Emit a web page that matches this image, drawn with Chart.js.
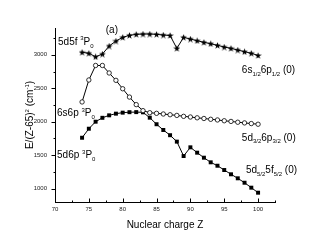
<!DOCTYPE html>
<html>
<head>
<meta charset="utf-8">
<script src="https://cdn.jsdelivr.net/npm/chart.js@4.4.1/dist/chart.umd.min.js"></script>
<style>
  html, body { margin: 0; padding: 0; background: #fff; }
  #chart { display: block; }
</style>
</head>
<body>
<canvas id="chart" width="320" height="245"></canvas>
<script>
// Nuclear charge Z
const zValues = [74, 75, 76, 77, 78, 79, 80, 81, 82, 83, 84, 85, 86, 87, 88, 89, 90, 91, 92, 93, 94, 95, 96, 97, 98, 99, 100];

// 6s1/2 6p1/2 (0) - stars
const starVals = [3037, 3022, 2970, 3010, 3131, 3205, 3260, 3290, 3305, 3310, 3310, 3305, 3295, 3288, 3096, 3260, 3235, 3210, 3186, 3165, 3141, 3116, 3096, 3071, 3046, 3022, 2990];

// 5d3/2 6p3/2 (0) - open circles
const circleVals = [2295, 2623, 2840, 2840, 2728, 2618, 2492, 2368, 2255, 2165, 2134, 2125, 2115, 2104, 2094, 2080, 2070, 2058, 2048, 2036, 2026, 2014, 2004, 1992, 1982, 1972, 1962];

// 5d5/2 5f5/2 (0) - filled squares
const squareVals = [1760, 1895, 2000, 2058, 2095, 2120, 2135, 2142, 2143, 2140, 2060, 1962, 1876, 1798, 1702, 1487, 1617, 1537, 1462, 1393, 1342, 1278, 1214, 1154, 1088, 1014, 939];

const xTickVals = [70, 75, 80, 85, 90, 95, 100];
const yTickVals = [1000, 1500, 2000, 2500, 3000];

// text labels in the plot (data coordinates); s: 1 = superscript, -1 = subscript
const notes = [
    { z: 77.5, e: 3325, parts: [{ t: '(a)' }] },
    { z: 70.45, e: 3146, parts: [{ t: '5d5f ' }, { t: '3', s: 1 }, { t: 'P' }, { t: '0', s: -1 }] },
    { z: 70.3, e: 2085, parts: [{ t: '6s6p ' }, { t: '3', s: 1 }, { t: 'P' }, { t: '0', s: -1 }] },
    { z: 70.3, e: 1457, parts: [{ t: '5d6p ' }, { t: '3', s: 1 }, { t: 'P' }, { t: '0', s: -1 }] },
    { z: 97.6, e: 2732, parts: [{ t: '6s' }, { t: '1/2', s: -1 }, { t: '6p' }, { t: '1/2', s: -1 }, { t: ' (0)' }] },
    { z: 97.6, e: 1716, parts: [{ t: '5d' }, { t: '3/2', s: -1 }, { t: '6p' }, { t: '3/2', s: -1 }, { t: ' (0)' }] },
    { z: 98.2, e: 1229, parts: [{ t: '5d' }, { t: '5/2', s: -1 }, { t: '5f' }, { t: '5/2', s: -1 }, { t: ' (0)' }] }
];

const FONT = '"Liberation Sans", Arial, sans-serif';

// filled five point star used as point style
function makeStar(size) {
    const c = document.createElement('canvas');
    c.width = size; c.height = size;
    const g = c.getContext('2d');
    const cx = size / 2, cy = size / 2 + 0.3;
    const ro = size / 2, ri = ro * 0.42;
    g.beginPath();
    for (let i = 0; i < 10; i++) {
        const r = i % 2 === 0 ? ro : ri;
        const a = -Math.PI / 2 + i * Math.PI / 5;
        const px = cx + r * Math.cos(a), py = cy + r * Math.sin(a);
        if (i === 0) g.moveTo(px, py); else g.lineTo(px, py);
    }
    g.closePath();
    g.fillStyle = '#000';
    g.fill();
    return c;
}

function drawRich(ctx, x, y, parts, size) {
    let cx = x;
    parts.forEach(p => {
        const small = p.s ? size * 0.6 : size;
        ctx.font = small + 'px ' + FONT;
        const dy = p.s === 1 ? -size * 0.45 : (p.s === -1 ? size * 0.28 : 0);
        ctx.fillText(p.t, cx, y + dy);
        cx += ctx.measureText(p.t).width;
    });
}

const extras = {
    id: 'extras',
    afterDraw(chart) {
        const { ctx, chartArea, scales: { x, y } } = chart;
        ctx.save();
        ctx.strokeStyle = '#000';
        ctx.lineWidth = 1;
        const left = Math.round(chartArea.left) + 0.5;
        const bottom = Math.round(chartArea.bottom) + 0.5;

        // y ticks (outward), major and minor
        ctx.beginPath();
        for (let v = 1000; v <= 3250; v += 250) {
            const py = Math.round(y.getPixelForValue(v)) + 0.5;
            const len = v % 500 === 0 ? 4 : 2;
            ctx.moveTo(left, py);
            ctx.lineTo(left - len, py);
        }
        // x ticks (inward), major and minor
        for (let v = 70; v <= 102.5; v += 2.5) {
            const px = Math.round(x.getPixelForValue(v)) + 0.5;
            const len = v % 5 === 0 ? 4 : 2;
            ctx.moveTo(px, bottom);
            ctx.lineTo(px, bottom - len);
        }
        ctx.stroke();

        // in-plot labels
        ctx.fillStyle = '#000';
        ctx.textBaseline = 'alphabetic';
        ctx.textAlign = 'left';
        notes.forEach(n => {
            drawRich(ctx, x.getPixelForValue(n.z), y.getPixelForValue(n.e), n.parts, 10);
        });

        // x axis title
        ctx.textAlign = 'center';
        ctx.font = '10px ' + FONT;
        ctx.fillText('Nuclear charge Z', (chartArea.left + chartArea.right) / 2, 228);

        // y axis title, rotated
        ctx.textAlign = 'left';
        const yParts = [{ t: 'E/(Z-65)' }, { t: '2', s: 1 }, { t: ' (cm' }, { t: '-1', s: 1 }, { t: ')' }];
        let w = 0;
        yParts.forEach(p => {
            ctx.font = (p.s ? 6 : 10) + 'px ' + FONT;
            w += ctx.measureText(p.t).width;
        });
        ctx.translate(33, 115);
        ctx.rotate(-Math.PI / 2);
        drawRich(ctx, -w / 2, 0, yParts, 10);
        ctx.restore();
    }
};

const starImg = makeStar(7);

new Chart(document.getElementById('chart'), {
    type: 'line',
    data: {
        labels: zValues,
        datasets: [
            {
                label: '6s1/2 6p1/2 (0)',
                data: zValues.map((z, i) => ({ x: z, y: starVals[i] })),
                borderColor: '#000',
                borderWidth: 1,
                pointStyle: starImg,
                pointRadius: 3.5,
                tension: 0
            },
            {
                label: '5d3/2 6p3/2 (0)',
                data: zValues.map((z, i) => ({ x: z, y: circleVals[i] })),
                borderColor: '#000',
                borderWidth: 1,
                pointStyle: 'circle',
                pointRadius: 2.2,
                pointBorderWidth: 0.8,
                pointBackgroundColor: '#fff',
                pointBorderColor: '#000',
                tension: 0
            },
            {
                label: '5d5/2 5f5/2 (0)',
                data: zValues.map((z, i) => ({ x: z, y: squareVals[i] })),
                borderColor: '#000',
                borderWidth: 1,
                pointStyle: 'rect',
                pointRadius: 2.8,
                pointBorderWidth: 0,
                pointBackgroundColor: '#000',
                tension: 0
            }
        ]
    },
    options: {
        responsive: false,
        animation: false,
        devicePixelRatio: 1,
        layout: { padding: { top: 28, right: 45, left: 0, bottom: 0 } },
        plugins: { legend: { display: false }, tooltip: { enabled: false } },
        scales: {
            x: {
                type: 'linear',
                min: 70,
                max: 102.5,
                afterBuildTicks: s => { s.ticks = xTickVals.map(v => ({ value: v })); },
                afterFit: s => { s.height = 43; },
                grid: { display: false, drawTicks: false },
                border: { display: true, color: '#000', width: 1 },
                ticks: { padding: 4, maxRotation: 0, color: '#222', font: { family: FONT, size: 6 }, callback: v => String(v) }
            },
            y: {
                type: 'linear',
                min: 800,
                max: 3400,
                afterBuildTicks: s => { s.ticks = yTickVals.map(v => ({ value: v })); },
                afterFit: s => { s.width = 55; },
                grid: { display: false, drawTicks: false },
                border: { display: true, color: '#000', width: 1 },
                ticks: { padding: 8, color: '#222', font: { family: FONT, size: 6 }, callback: v => String(v) }
            }
        }
    },
    plugins: [extras]
});
</script>
</body>
</html>
